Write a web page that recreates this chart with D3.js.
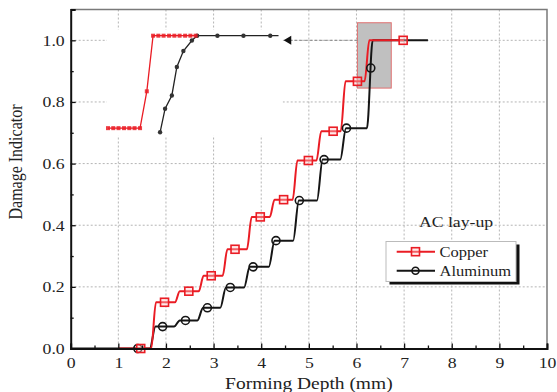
<!DOCTYPE html>
<html>
<head>
<meta charset="utf-8">
<script src="https://cdn.jsdelivr.net/npm/d3@7"></script>
<style>
  body { margin: 0; background: #fff; }
  svg { display: block; font-family: "Liberation Serif", "Times New Roman", serif; }
</style>
</head>
<body>
<svg id="chart"></svg>
<script>
// main curves: step positions (mm) and plateau levels
const copperStart = 1.0, copperEnd = 7.0;
const copperSteps = [1.74, 2.24, 2.74, 3.24, 3.75, 4.23, 4.71, 5.21, 5.72, 6.22];
const copperLevels = [0, 0.15, 0.186, 0.236, 0.322, 0.427, 0.483, 0.61, 0.705, 0.867, 1.0];
const copperMarkX = [1.47, 1.97, 2.48, 2.95, 3.45, 3.98, 4.47, 4.99, 5.51, 6.02, 6.98];
const copperMarkY = [0, 0.15, 0.186, 0.236, 0.322, 0.427, 0.483, 0.61, 0.705, 0.867, 1.0];

const alStart = 0, alEnd = 7.5;
const alSteps = [1.72, 2.23, 2.72, 3.2, 3.7, 4.22, 4.73, 5.23, 5.72, 6.28];
const alLevels = [0, 0.071, 0.091, 0.132, 0.198, 0.265, 0.35, 0.48, 0.613, 0.715, 1.0];
const alMarkX = [1.41, 1.93, 2.41, 2.87, 3.35, 3.83, 4.31, 4.80, 5.32, 5.79, 6.30];
const alMarkY = [0, 0.071, 0.091, 0.132, 0.198, 0.265, 0.35, 0.48, 0.613, 0.715, 0.91];

// inset (zoom of the shaded box)
const insetCuX = [6.012, 6.033, 6.054, 6.076, 6.097, 6.118, 6.140, 6.167, 6.192, 6.213, 6.234, 6.256, 6.277, 6.298, 6.320, 6.341, 6.362];
const insetCuY = [0.867, 0.867, 0.867, 0.867, 0.867, 0.867, 0.867, 0.92, 1.0, 1.0, 1.0, 1.0, 1.0, 1.0, 1.0, 1.0, 1.0];
const insetAlX = [6.22, 6.24, 6.267, 6.287, 6.313, 6.347, 6.368, 6.449, 6.553, 6.66, 6.693];
const insetAlY = [0.861, 0.895, 0.914, 0.955, 0.978, 0.993, 1.0, 1.0, 1.0, 1.0, 1.0];
const insetAlMarks = 10; // last point has no marker

const xTicks = [0, 1, 2, 3, 4, 5, 6, 7, 8, 9, 10];
const xMinor = [0.5, 1.5, 2.5, 3.5, 4.5, 5.5, 6.5, 7.5, 8.5, 9.5];
const yTicks = [0, 0.2, 0.4, 0.6, 0.8, 1.0];
const yMinor = [0.1, 0.3, 0.5, 0.7, 0.9];

const W = 557, H = 392;
const plotL = 70.7, plotR = 547, plotT = 9.5, plotB = 348.5;
const sx = 1.18; // horizontal stretch of the source picture's text

const svg = d3.select("#chart").attr("width", W).attr("height", H);

const x = d3.scaleLinear().domain([0, 10]).range([plotL, plotR]);
const y = d3.scaleLinear().domain([0, 1.1]).range([plotB, plotT]);

// grid
svg.append("g").selectAll("line")
    .data(xTicks.slice(1, -1))
    .enter().append("line")
    .attr("x1", d => x(d)).attr("x2", d => x(d))
    .attr("y1", plotT).attr("y2", plotB)
    .attr("stroke", "#b5b5b5").attr("stroke-dasharray", "2,2");
svg.append("g").selectAll("line")
    .data(yTicks.slice(1))
    .enter().append("line")
    .attr("x1", plotL).attr("x2", plotR)
    .attr("y1", d => y(d)).attr("y2", d => y(d))
    .attr("stroke", "#b5b5b5").attr("stroke-dasharray", "2,2");

// frame top / right
svg.append("path")
    .attr("d", `M${plotL},${plotT}H${plotR}V${plotB}`)
    .attr("fill", "none").attr("stroke", "#7a7a7a").attr("stroke-width", 1.5);

// inset background and scales
const ix = d3.scaleLinear().domain([6.0, 6.7]).range([x(0.72), x(4.4)]);
const iy = d3.scaleLinear().domain([0.867, 1.0]).range([y(0.715), y(1.015)]);
svg.append("rect")
    .attr("x", x(0.76)).attr("y", y(1.035))
    .attr("width", x(4.45) - x(0.76)).attr("height", y(0.69) - y(1.035))
    .attr("fill", "#fff");

// shaded box
svg.append("rect")
    .attr("x", x(6.02)).attr("y", y(1.057))
    .attr("width", x(6.73) - x(6.02)).attr("height", y(0.845) - y(1.057))
    .attr("fill", "#c0c0c0").attr("stroke", "#e07070").attr("stroke-width", 1);

// arrow
svg.append("line")
    .attr("x1", x(6.02)).attr("x2", x(4.6))
    .attr("y1", y(1.0)).attr("y2", y(1.0))
    .attr("stroke", "#888").attr("stroke-dasharray", "3,2");
svg.append("path")
    .attr("d", `M${x(4.47)},${y(1.0)}L${x(4.63)},${y(1.0) - 4.5}L${x(4.63)},${y(1.0) + 4.5}Z`)
    .attr("fill", "#111");

// step curves
function stepPoints(start, end, steps, levels, hw) {
    const pts = [[start, levels[0]]];
    steps.forEach((s, i) => {
        pts.push([s - hw, levels[i]]);
        pts.push([s + hw, levels[i + 1]]);
    });
    pts.push([end, levels[levels.length - 1]]);
    return pts;
}
const line = d3.line().x(d => x(d[0])).y(d => y(d[1])).curve(d3.curveMonotoneX);

const red = "#ea1c24", black = "#151515";

svg.append("path")
    .attr("d", line(stepPoints(alStart, alEnd, alSteps, alLevels, 0.06)))
    .attr("fill", "none").attr("stroke", black).attr("stroke-width", 2);
svg.append("path")
    .attr("d", line(stepPoints(copperStart, copperEnd, copperSteps, copperLevels, 0.05)))
    .attr("fill", "none").attr("stroke", red).attr("stroke-width", 2);

svg.append("g").selectAll("circle")
    .data(alMarkX)
    .enter().append("circle")
    .attr("cx", d => x(d)).attr("cy", (d, i) => y(alMarkY[i]))
    .attr("r", 4).attr("fill", "none").attr("stroke", black).attr("stroke-width", 1.6);
svg.append("g").selectAll("rect")
    .data(copperMarkX)
    .enter().append("rect")
    .attr("x", d => x(d) - 4).attr("y", (d, i) => y(copperMarkY[i]) - 4)
    .attr("width", 8).attr("height", 8)
    .attr("fill", "rgba(255,200,200,0.4)").attr("stroke", red).attr("stroke-width", 1.6);

// inset curves
const iline = d3.line().x(d => ix(d[0])).y(d => iy(d[1]));
svg.append("path")
    .attr("d", iline(insetAlX.map((d, i) => [d, insetAlY[i]])))
    .attr("fill", "none").attr("stroke", "#222").attr("stroke-width", 1.3);
svg.append("g").selectAll("circle")
    .data(insetAlX.slice(0, insetAlMarks))
    .enter().append("circle")
    .attr("cx", d => ix(d)).attr("cy", (d, i) => iy(insetAlY[i]))
    .attr("r", 2.2).attr("fill", "#333");
svg.append("path")
    .attr("d", iline(insetCuX.map((d, i) => [d, insetCuY[i]])))
    .attr("fill", "none").attr("stroke", red).attr("stroke-width", 1.3);
svg.append("g").selectAll("rect")
    .data(insetCuX)
    .enter().append("rect")
    .attr("x", d => ix(d) - 2).attr("y", (d, i) => iy(insetCuY[i]) - 2)
    .attr("width", 4).attr("height", 4).attr("fill", red).attr("opacity", 0.85);

// axes
const xAxis = svg.append("g").attr("transform", `translate(0,${plotB})`)
    .call(d3.axisBottom(x).tickValues(xTicks).tickSize(-5).tickPadding(9).tickFormat(d3.format("d")));
svg.append("g").attr("transform", `translate(0,${plotB})`)
    .call(d3.axisBottom(x).tickValues(xMinor).tickSize(-3).tickFormat(""))
    .select(".domain").remove();
const yAxis = svg.append("g").attr("transform", `translate(${plotL},0)`)
    .call(d3.axisLeft(y).tickValues(yTicks).tickSize(-5).tickPadding(6).tickFormat(d3.format(".1f")));
svg.append("g").attr("transform", `translate(${plotL},0)`)
    .call(d3.axisLeft(y).tickValues(yMinor).tickSize(-3).tickFormat(""))
    .select(".domain").remove();

svg.selectAll(".domain").attr("stroke", "#111").attr("stroke-width", 2);
svg.selectAll(".tick line").attr("stroke", "#111").attr("stroke-width", 1.3);
xAxis.selectAll("text").attr("font-size", 15).attr("fill", "#222")
    .attr("font-family", "Liberation Serif").attr("transform", `scale(${sx},1)`);
yAxis.selectAll("text").attr("font-size", 15).attr("fill", "#222")
    .attr("font-family", "Liberation Serif").attr("x", -6 / sx).attr("transform", `scale(${sx},1)`);

// axis titles
svg.append("text")
    .attr("transform", `translate(${(plotL + plotR) / 2},389) scale(${sx},1)`)
    .attr("text-anchor", "middle").attr("font-size", 16.5).attr("fill", "#222")
    .text("Forming Depth (mm)");
svg.append("text")
    .attr("transform", `translate(22,162) scale(${sx},1) rotate(-90)`)
    .attr("text-anchor", "middle").attr("font-size", 16).attr("fill", "#222")
    .text("Damage Indicator");

// legend
const lg = svg.append("g");
lg.append("text")
    .attr("transform", `translate(456,227) scale(${sx},1)`)
    .attr("text-anchor", "middle").attr("font-size", 15).attr("fill", "#222")
    .text("AC lay-up");
lg.append("rect").attr("x", 389.5).attr("y", 244.5).attr("width", 130).attr("height", 40).attr("fill", "#111");
lg.append("rect").attr("x", 386).attr("y", 241.5).attr("width", 130).attr("height", 40)
    .attr("fill", "#fff").attr("stroke", "#bbb").attr("stroke-width", 1);

const legendNames = ["Copper", "Aluminum"];
const legendColors = [red, black];
legendNames.forEach((name, i) => {
    const ly = 251.7 + i * 19;
    lg.append("line").attr("x1", 396.7).attr("x2", 435).attr("y1", ly).attr("y2", ly)
        .attr("stroke", legendColors[i]).attr("stroke-width", 2);
    if (i === 0) {
        lg.append("rect").attr("x", 411.5).attr("y", ly - 4).attr("width", 8).attr("height", 8)
            .attr("fill", "rgba(255,200,200,0.4)").attr("stroke", red).attr("stroke-width", 1.6);
    } else {
        lg.append("circle").attr("cx", 415.5).attr("cy", ly).attr("r", 3.5)
            .attr("fill", "none").attr("stroke", black).attr("stroke-width", 1.6);
    }
    lg.append("text")
        .attr("transform", `translate(439.5,${ly + 5.5}) scale(${sx},1)`)
        .attr("font-size", 14).attr("fill", "#222")
        .text(name);
});
</script>
</body>
</html>
